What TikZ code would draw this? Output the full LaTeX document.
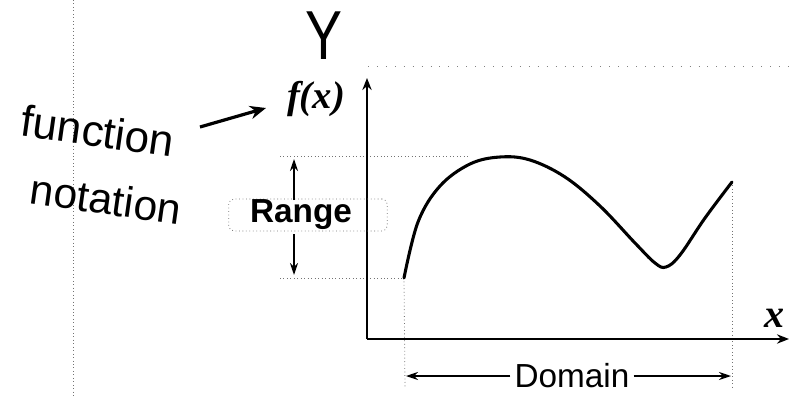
\documentclass[tikz,border=0pt]{standalone}
\usepackage{fontspec}
\setmainfont{Liberation Serif}
\newfontfamily\handfont{Liberation Sans}
\usetikzlibrary{arrows.meta}
\tikzset{
  guide/.style={draw=black!55, line width=0.6pt, dotted},
  sparse/.style={draw=black!50, line width=0.6pt, dash pattern=on 0.7pt off 6pt},
  axis/.style={draw=black, line width=1.6pt, -{Stealth[length=9pt,width=7pt]}},
  dimarrow/.style={draw=black, line width=1.2pt, -{Stealth[length=9pt,width=6pt]}},
  hand/.style={font=\handfont, inner sep=0pt},
  curve/.style={draw=black, line width=2.3pt, line cap=round}
}
\begin{document}
\begin{tikzpicture}[x=0.75pt,y=-0.75pt]
\useasboundingbox (0,0) rectangle (789,396);
% coordinates
\coordinate (O) at (367,339);
\coordinate (ytop) at (367,78);
\coordinate (xend) at (789,339);
\coordinate (pstart) at (404,278);
\coordinate (pend) at (732,182);
\coordinate (maxL) at (280,156);
\coordinate (maxR) at (468,156);
\coordinate (minL) at (280,278);
\coordinate (dL) at (405,388);
\coordinate (dR) at (732,388);
% guide lines
\draw[guide] (73,0) -- (73,396);
\draw[sparse] (368,66) -- (789,66);
\draw[guide] (maxL) -- (maxR);
\draw[guide] (minL) -- (pstart);
\draw[guide] (pstart) -- (dL);
\draw[guide] (pend) -- (dR);
% axes
\draw[axis] (O) -- (ytop);
\draw[axis] (O) -- (xend);
% curve
\draw[curve] plot[smooth, tension=0.6] coordinates {(404,278) (418,222) (440,186) (470,164) (500,157) (530,160) (565,177) (600,206) (635,243) (655,263) (666,267) (680,255) (705,218) (732,182)};
% labels
\node[hand, font=\handfont\fontsize{52}{52}\selectfont, xscale=0.8] (Y) at (324,36) {Y};
\node[inner sep=0pt, font=\bfseries\itshape\fontsize{29}{29}\selectfont] (fx) at (316,99) {f(x)};
\node[inner sep=0pt, font=\itshape\bfseries\fontsize{30}{30}\selectfont] (xl) at (774,318) {x};
\node[hand, rotate=-8, font=\handfont\fontsize{33}{33}\selectfont] (fn) at (98,131) {function};
\node[hand, rotate=-8, font=\handfont\fontsize{32}{32}\selectfont] (nt) at (106,199) {notation};
\coordinate (arS) at (200,127);
\coordinate (arE) at (266,108);
\draw[draw=black, line width=2.4pt, -{Stealth[length=12pt,width=10pt]}] (arS) -- (arE);
% range
\node[draw=black!55, dotted, line width=0.6pt, rounded corners=4pt, minimum width=119pt, minimum height=24pt] (rbox) at (308,215) {};
\node[hand, font=\handfont\bfseries\fontsize{25}{25}\selectfont] (range) at (301,215) {Range};
\draw[dimarrow] (294,200) -- (294,159);
\draw[dimarrow] (294,234) -- (294,275);
% domain
\node[hand, fill=white, inner xsep=3pt, font=\handfont\fontsize{25}{25}\selectfont] (dom) at (572,376) {Domain};
\draw[dimarrow] (dom.west) -- (406,376);
\draw[dimarrow] (dom.east) -- (731,376);
\end{tikzpicture}
\end{document}
